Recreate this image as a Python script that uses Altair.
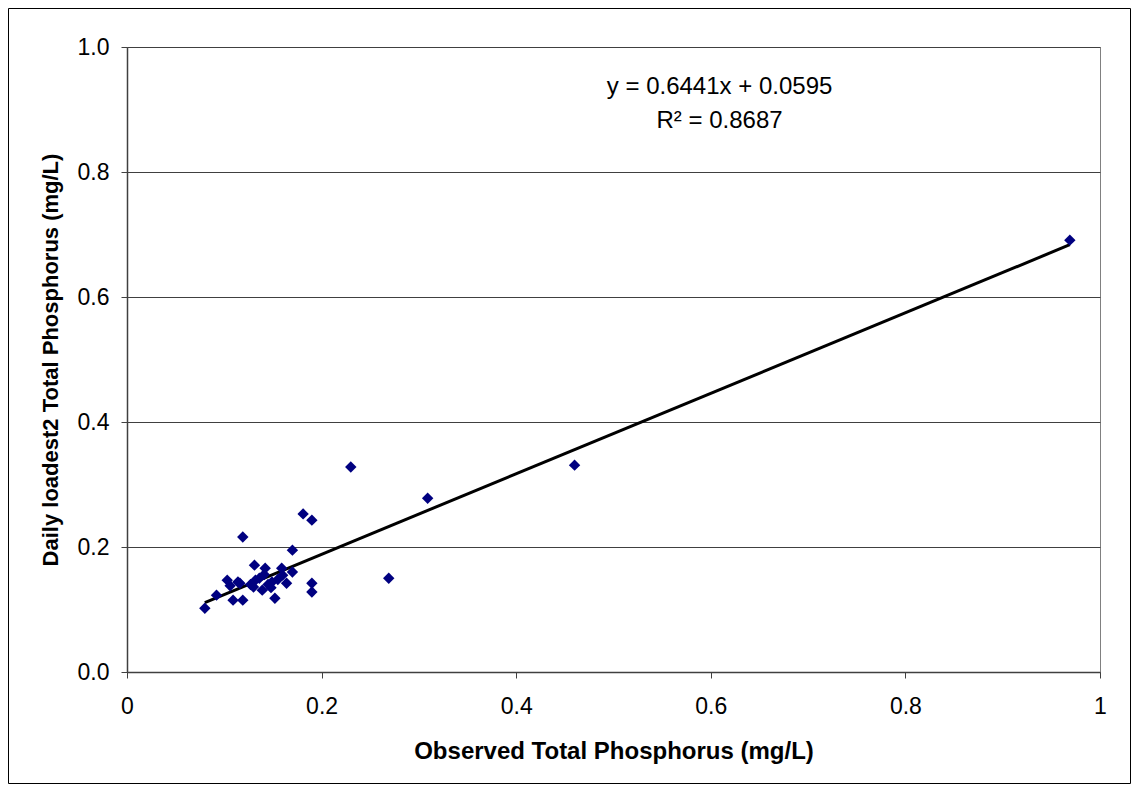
import altair as alt
import pandas as pd

obs_tp = [0.080, 0.092, 0.103, 0.114, 0.109, 0.119, 0.119, 0.131, 0.142, 0.132,
          0.130, 0.139, 0.149, 0.159, 0.170, 0.164, 0.152, 0.170, 0.181, 0.190,
          0.190, 0.190, 0.269, 0.230, 0.309, 0.460, 0.969, 0.106, 0.116, 0.136,
          0.145, 0.155, 0.160, 0.148, 0.141, 0.127]
est_tp = [0.102, 0.123, 0.147, 0.144, 0.115, 0.115, 0.216, 0.171, 0.166, 0.147,
          0.136, 0.131, 0.144, 0.166, 0.160, 0.142, 0.118, 0.195, 0.253, 0.243,
          0.142, 0.128, 0.150, 0.328, 0.278, 0.331, 0.691, 0.138, 0.142, 0.150,
          0.140, 0.148, 0.155, 0.135, 0.156, 0.140]

slope = 0.6441
intercept = 0.0595
eq_lines = ["y = 0.6441x + 0.0595", "R² = 0.8687"]
eq_x = [0.609, 0.609]
eq_y = [0.936, 0.882]

x_ticks = [0, 0.2, 0.4, 0.6, 0.8, 1.0]
y_ticks = [0.0, 0.2, 0.4, 0.6, 0.8, 1.0]

pts = pd.DataFrame({"obs": obs_tp, "est": est_tp})
line_df = pd.DataFrame({"obs": [min(obs_tp), max(obs_tp)]})
txt = pd.DataFrame({"t": eq_lines, "x": eq_x, "y": eq_y})

FONT = "Liberation Sans"

xs = alt.Scale(domain=[0, 1], nice=False)
ys = alt.Scale(domain=[0, 1], nice=False)

points = alt.Chart(pts).mark_point(
    shape="diamond", filled=True, color="#000080", size=130, opacity=1
).encode(
    x=alt.X("obs:Q", scale=xs,
            axis=alt.Axis(title="Observed Total Phosphorus (mg/L)", values=x_ticks,
                          format="~g", grid=False, tickSize=6, labelPadding=17,
                          titlePadding=21, titleFontSize=24, labelFlush=False)),
    y=alt.Y("est:Q", scale=ys,
            axis=alt.Axis(title="Daily loadest2 Total Phosphorus (mg/L)", values=y_ticks,
                          format=".1f", grid=True, tickSize=6, labelPadding=12,
                          titlePadding=15, titleFontSize=22, labelFlush=False)),
)

fit = alt.Chart(line_df).transform_calculate(
    est=f"{slope} * datum.obs + {intercept}"
).mark_line(color="black", strokeWidth=3).encode(
    x=alt.X("obs:Q", scale=xs),
    y=alt.Y("est:Q", scale=ys),
)

eq = alt.Chart(txt).mark_text(font=FONT, fontSize=24, color="black", align="center",
                              baseline="middle").encode(
    x=alt.X("x:Q", scale=xs), y=alt.Y("y:Q", scale=ys), text="t:N"
)

frame = alt.Chart(pd.DataFrame({"a": [0]})).mark_rect(
    fill=None, stroke="black", strokeWidth=1, clip=False
).encode(x=alt.value(-118.5), x2=alt.value(1003.5), y=alt.value(-38.5), y2=alt.value(736.5))

chart = alt.layer(fit, points, eq, frame).properties(
    width=973, height=625,
    background="white",
    autosize=alt.AutoSizeParams(type="none"),
    padding={"left": 119, "top": 39, "right": 31, "bottom": 113},
).configure_view(stroke="#808080", strokeWidth=1).configure_axis(
    labelFont=FONT, titleFont=FONT, labelFontSize=23,
    titleFontWeight="bold", labelColor="black", titleColor="black",
    domainColor="#404040", tickColor="#404040", gridColor="#404040",
    gridWidth=1, gridOpacity=1, domainWidth=1.5
)

chart.save("out.html", embed_options={"renderer": "svg", "actions": False})
